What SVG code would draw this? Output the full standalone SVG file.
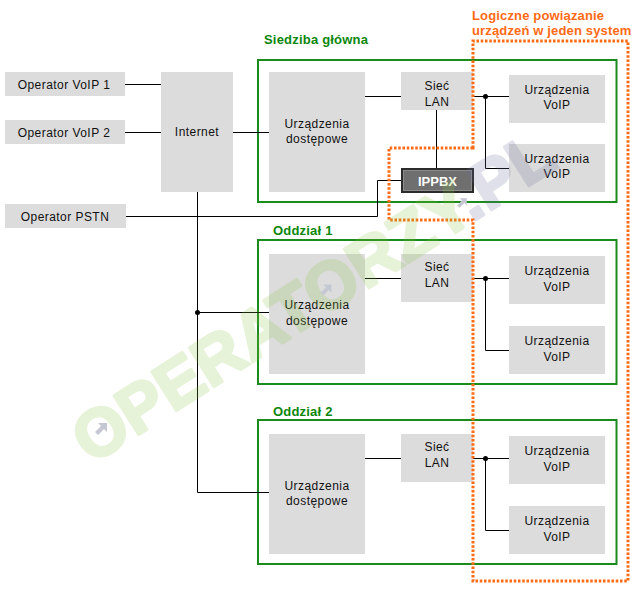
<svg xmlns="http://www.w3.org/2000/svg" width="637" height="592" viewBox="0 0 637 592">
<style>
.box{fill:#dcdcdc}
.t{font-family:"Liberation Sans",Arial,sans-serif;font-size:12px;fill:#111;text-anchor:middle;letter-spacing:0.45px}
.grp{fill:none;stroke:#1b8b1b;stroke-width:2}
.gt{font-family:"Liberation Sans",Arial,sans-serif;font-size:13px;font-weight:bold;fill:#0b870b;letter-spacing:0.2px}
.ot{font-family:"Liberation Sans",Arial,sans-serif;font-size:13px;font-weight:bold;fill:#ff6a13;letter-spacing:0.15px}
.ln{fill:none;stroke:#000;stroke-width:1}
.dot{fill:#000}
.wm{font-family:"Liberation Sans",Arial,sans-serif;font-size:67px;font-weight:bold;stroke-width:3;stroke-linejoin:round}
.arw{fill:#c5c7d2}
</style>
<defs>
<polygon id="arrow" points="-6,3 0,-3 -3,-6 6,-6 6,3 3,0 -3,6"/>
</defs>
<rect width="637" height="592" fill="#fff"/>

<g id="siedziba">
<rect class="grp" x="258" y="60" width="358.5" height="142"/>
<text class="gt" x="264" y="44">Siedziba główna</text>
</g>
<g id="oddzial1">
<rect class="grp" x="258" y="240" width="358.5" height="144"/>
<text class="gt" x="273" y="235">Oddział 1</text>
</g>
<g id="oddzial2">
<rect class="grp" x="258" y="420" width="358.5" height="144"/>
<text class="gt" x="273" y="416">Oddział 2</text>
</g>

<g id="op-voip1"><rect class="box" x="5" y="72" width="120" height="24"/><text class="t" x="64" y="89">Operator VoIP 1</text></g>
<g id="op-voip2"><rect class="box" x="5" y="120" width="120" height="24"/><text class="t" x="64" y="137">Operator VoIP 2</text></g>
<g id="op-pstn"><rect class="box" x="5" y="204" width="121" height="24"/><text class="t" x="65" y="221">Operator PSTN</text></g>
<g id="internet"><rect class="box" x="161" y="72" width="72" height="120"/><text class="t" x="197" y="136">Internet</text></g>

<g id="s-access"><rect class="box" x="269" y="72" width="96" height="120"/><text class="t" x="317" y="127.5">Urządzenia</text><text class="t" x="317" y="143">dostępowe</text></g>
<g id="s-lan"><rect class="box" x="401" y="72" width="72" height="38"/><text class="t" x="437" y="90">Sieć</text><text class="t" x="437" y="106">LAN</text></g>
<g id="s-voip1"><rect class="box" x="509" y="75" width="96" height="48"/><text class="t" x="557" y="93.5">Urządzenia</text><text class="t" x="557" y="109">VoIP</text></g>
<g id="s-voip2"><rect class="box" x="509" y="144" width="96" height="48"/><text class="t" x="557" y="162.5">Urządzenia</text><text class="t" x="557" y="178">VoIP</text></g>
<g id="ippbx">
<rect x="402" y="169" width="71" height="23" fill="#6f6f6f" stroke="#2b2b2b" stroke-width="2"/>
<rect x="403.5" y="170.5" width="68" height="20" fill="none" stroke="#8c8c8c" stroke-width="1"/>
<text x="437.5" y="186" font-family="Liberation Sans,Arial,sans-serif" font-size="13" font-weight="bold" fill="#fff" text-anchor="middle">IPPBX</text>
</g>

<g id="o1-access"><rect class="box" x="269" y="254" width="96" height="120"/><text class="t" x="317" y="309">Urządzenia</text><text class="t" x="317" y="325">dostępowe</text></g>
<g id="o1-lan"><rect class="box" x="401" y="254" width="72" height="48"/><text class="t" x="437" y="271">Sieć</text><text class="t" x="437" y="287">LAN</text></g>
<g id="o1-voip1"><rect class="box" x="509" y="256" width="96" height="48"/><text class="t" x="557" y="275">Urządzenia</text><text class="t" x="557" y="290.5">VoIP</text></g>
<g id="o1-voip2"><rect class="box" x="509" y="326" width="96" height="48"/><text class="t" x="557" y="345">Urządzenia</text><text class="t" x="557" y="360.5">VoIP</text></g>

<g id="o2-access"><rect class="box" x="269" y="434" width="96" height="120"/><text class="t" x="317" y="489.5">Urządzenia</text><text class="t" x="317" y="505">dostępowe</text></g>
<g id="o2-lan"><rect class="box" x="401" y="434" width="72" height="48"/><text class="t" x="437" y="451">Sieć</text><text class="t" x="437" y="467">LAN</text></g>
<g id="o2-voip1"><rect class="box" x="509" y="436" width="96" height="48"/><text class="t" x="557" y="455">Urządzenia</text><text class="t" x="557" y="470.5">VoIP</text></g>
<g id="o2-voip2"><rect class="box" x="509" y="506" width="96" height="48"/><text class="t" x="557" y="525">Urządzenia</text><text class="t" x="557" y="540.5">VoIP</text></g>

<g id="connectors">
<path class="ln" d="M125,84.5H161M125,132.5H161M233,132.5H269"/>
<path class="ln" d="M365,96.5H401M473,96.5H509M485.5,96.5V168.5H509M436.5,110V168"/>
<path class="ln" d="M401,180.5H377.5V216.5H126"/>
<path class="ln" d="M197.5,192V492.5H269M197.5,312.5H269"/>
<path class="ln" d="M365,278.5H401M473,278.5H509M485.5,278.5V350.5H509"/>
<path class="ln" d="M365,458.5H401M473,458.5H509M485.5,458.5V530.5H509"/>
<circle class="dot" cx="485.5" cy="96.5" r="2.5"/>
<circle class="dot" cx="485.5" cy="278.5" r="2.5"/>
<circle class="dot" cx="485.5" cy="458.5" r="2.5"/>
<circle class="dot" cx="197.5" cy="312.5" r="2.5"/>
</g>

<g id="logical">
<path d="M473,148V41H628V581H473V220H389V148Z" fill="none" stroke="#ff6a13" stroke-width="3" stroke-dasharray="2.5 1.75"/>
<text class="ot" x="472" y="20">Logiczne powiązanie</text>
<text class="ot" x="472" y="35">urządzeń w jeden system</text>
</g>

<g id="watermark">
<g transform="translate(91,465) rotate(-32.5)" opacity="0.2">
<text class="wm" x="0" y="0"><tspan fill="#8cc63f" stroke="#8cc63f">OPERATORZY</tspan><tspan fill="#6b6b9b" stroke="#6b6b9b">.PL</tspan></text>
</g>
<use href="#arrow" class="arw" transform="translate(101,429)"/>
<use href="#arrow" class="arw" transform="translate(326,290) scale(0.9)"/>
<use href="#arrow" class="arw" transform="translate(462,203) scale(0.8)"/>
</g>
</svg>
